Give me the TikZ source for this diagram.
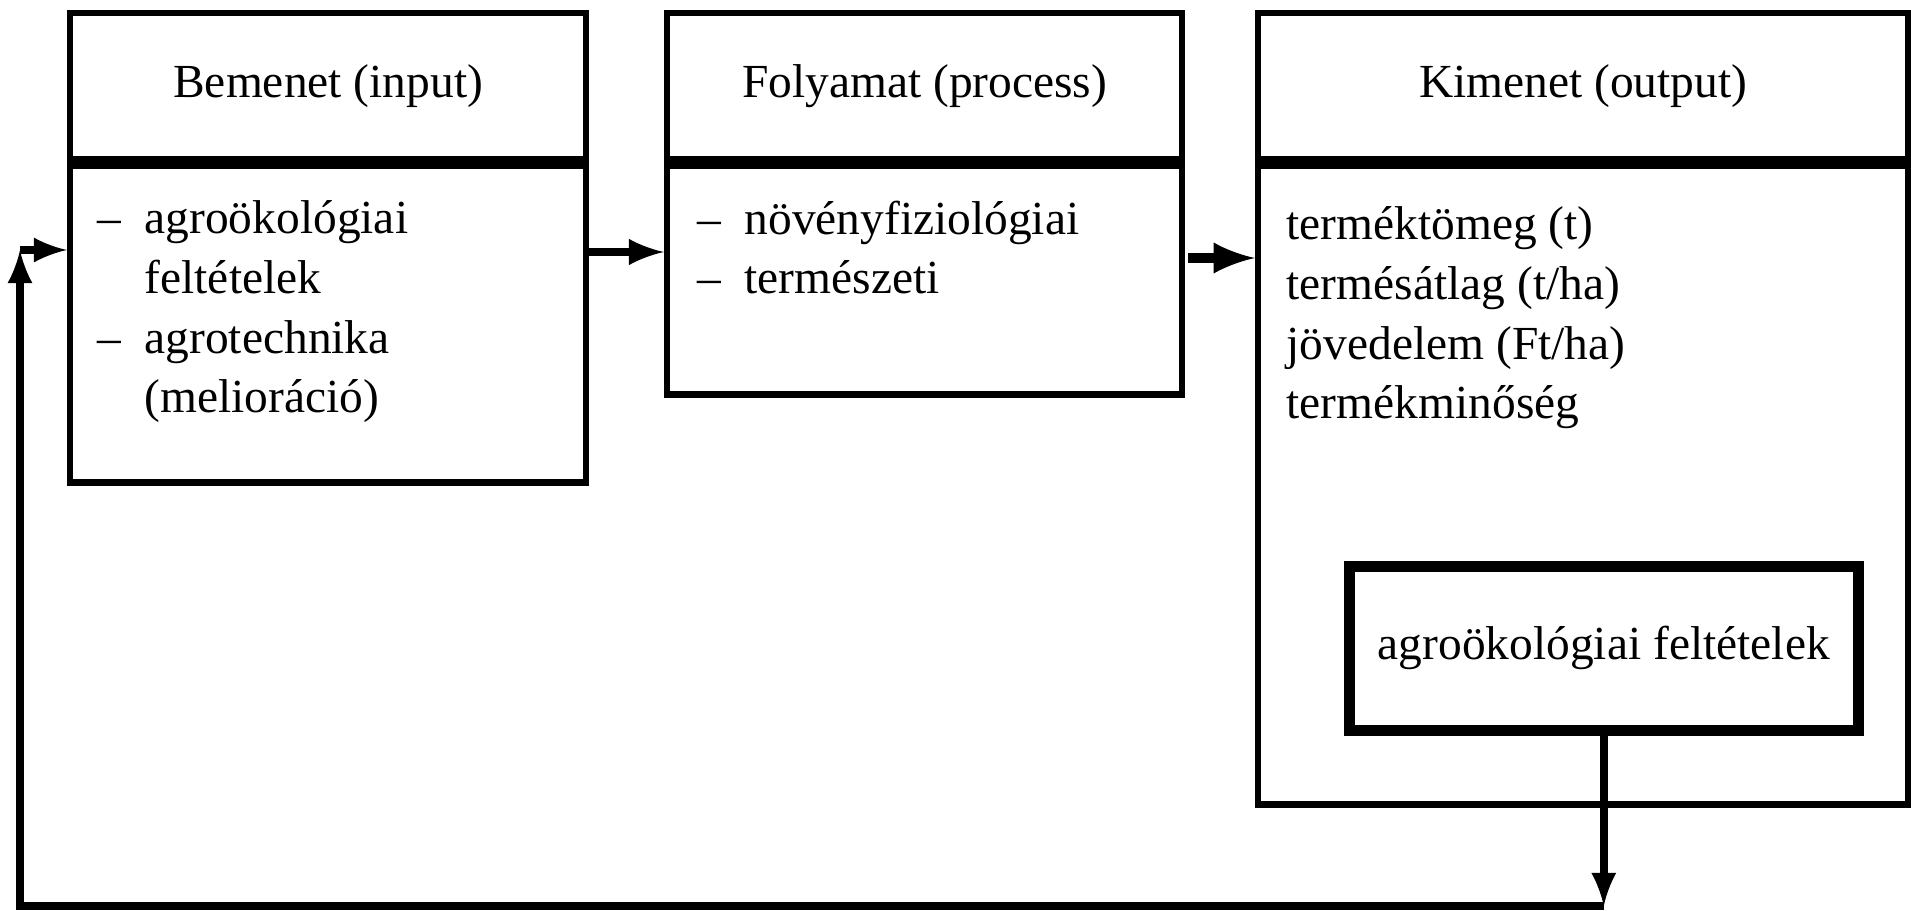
\documentclass[tikz,border=0pt]{standalone}
\usepackage{fontspec}
\setmainfont{Liberation Serif}
\usetikzlibrary{positioning}
\tikzset{
  box/.style={draw,line width=1.8pt,inner sep=0pt,anchor=north west,font=\fontsize{13.5}{16.5}\selectfont},
  head/.style={box,minimum height=1.46cm},
  list/.style={align=left,anchor=north west,inner sep=0pt,font=\fontsize{13.5}{17}\selectfont},
  flow/.style={line width=2.4pt,-latex},
  back/.style={line width=2.2pt,-latex}
}
\newcommand{\itm}[1]{\makebox[0.47cm][l]{--}#1}
\newcommand{\cnt}[1]{\hspace*{0.47cm}#1}
\begin{document}
\begin{tikzpicture}
\useasboundingbox (0,0) rectangle (19.11,9.14);
% input
\node[head,minimum width=5.16cm] (inhead) at (0.67,9.04) {Bemenet (input)};
\node[box,minimum width=5.16cm,minimum height=3.17cm] (inbody) at (inhead.south west) {};
\node[list] (inlist) at (0.97,7.14) {\itm{agroökológiai}\\ \cnt{feltételek}\\ \itm{agrotechnika}\\ \cnt{(melioráció)}};
% process
\node[head,minimum width=5.15cm] (prhead) at (6.64,9.04) {Folyamat (process)};
\node[box,minimum width=5.15cm,minimum height=2.29cm] (prbody) at (prhead.south west) {};
\node[list] (prlist) at (6.97,7.14) {\itm{növényfiziológiai}\\ \itm{természeti}};
% output
\node[head,minimum width=6.5cm] (outhead) at (12.55,9.04) {Kimenet (output)};
\node[box,minimum width=6.5cm,minimum height=6.39cm] (outbody) at (outhead.south west) {};
\node[list] (outlist) at (12.86,7.08) {terméktömeg (t)\\ termésátlag (t/ha)\\ jövedelem (Ft/ha)\\ termékminőség};
\node[box,line width=3pt,minimum width=5.09cm,minimum height=1.64cm] (inner) at (13.44,3.53) {agroökológiai feltételek};
%
\coordinate (a1) at (5.83,6.62);
\coordinate (a2) at (11.88,6.56);
\draw[flow] (a1) -- (a1 -| prbody.west);
\draw[flow,line width=3pt] (a2) -- (a2 -| outbody.west);
%
\coordinate (low) at (0.2,0.08);
\coordinate (up) at (0.2,6.64);
\draw[back] (inner.south) -- (inner.south |- low);
\draw[back] (inner.south |- low) -- (low) -- (up);
\draw[back] (up) -- (up -| inbody.west);
\end{tikzpicture}
\end{document}
